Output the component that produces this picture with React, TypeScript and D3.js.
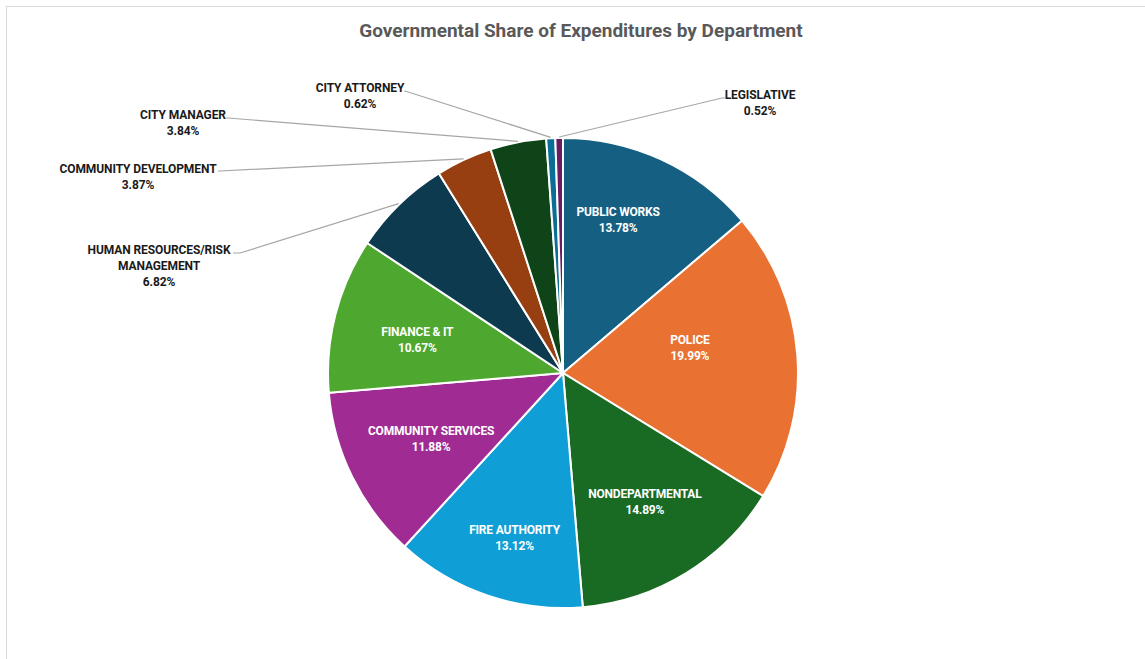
import React from "react";
import * as d3 from "d3";

const departments = [
  "PUBLIC WORKS",
  "POLICE",
  "NONDEPARTMENTAL",
  "FIRE AUTHORITY",
  "COMMUNITY SERVICES",
  "FINANCE & IT",
  "HUMAN RESOURCES/RISK MANAGEMENT",
  "COMMUNITY DEVELOPMENT",
  "CITY MANAGER",
  "CITY ATTORNEY",
  "LEGISLATIVE",
];
const shares = [13.78, 19.99, 14.89, 13.12, 11.88, 10.67, 6.82, 3.87, 3.84, 0.62, 0.52];
const colors = [
  "#156082",
  "#E97132",
  "#196B24",
  "#0F9ED5",
  "#A02B93",
  "#4EA72E",
  "#0D3A4E",
  "#983F11",
  "#0F4418",
  "#0B6E96",
  "#6A1C61",
];

// label layout: inside labels (white) vs outside labels with leader lines
const insideCount = 6;
// fine nudges of inside labels relative to the slice centroid (layout only)
const insideNudge = [
  [-8, -16],
  [-23, -13],
  [3, 1],
  [0, 23],
  [3, 0],
  [0, 4],
];
// outside label text lines and anchor positions (layout only)
const outsideLines = [
  ["HUMAN RESOURCES/RISK", "MANAGEMENT"],
  ["COMMUNITY DEVELOPMENT"],
  ["CITY MANAGER"],
  ["CITY ATTORNEY"],
  ["LEGISLATIVE"],
];
const outsideLayout = [
  { x: 159, y: 250, lineStart: [240, 253], textEnd: 233 },
  { x: 138, y: 169, lineStart: [220, 171], textEnd: 218 },
  { x: 183, y: 115, lineStart: [228, 118], textEnd: 226 },
  { x: 360, y: 88, lineStart: [405, 91], textEnd: 404 },
  { x: 760, y: 95, lineStart: [722, 98], textEnd: 725 },
];

const W = 1145;
const H = 659;
const cx = 563;
const cy = 373;
const R = 235;

export default function App() {
  const pie = d3
    .pie<number>()
    .value((d) => d)
    .sort(null)
    .startAngle(0)
    .endAngle(2 * Math.PI);
  const arcs = pie(shares);
  const arc = d3.arc<d3.PieArcDatum<number>>().innerRadius(0).outerRadius(R);
  const font = "Roboto, 'Liberation Sans', sans-serif";
  const pt = (a: number, r: number) => [cx + r * Math.sin(a), cy - r * Math.cos(a)];

  return (
    <div style={{ position: "absolute", left: 0, top: 0 }}>
      <svg width={W} height={H} style={{ display: "block", background: "#fff" }}>
        <rect x={6.5} y={6.5} width={W + 10} height={H + 10} fill="#fff" stroke="#d9d9d9" strokeWidth={1} />
        <text
          x={581}
          y={37}
          textAnchor="middle"
          fontFamily={font}
          fontWeight={700}
          fontSize={19}
          fill="#595959"
        >
          Governmental Share of Expenditures by Department
        </text>
        <g transform={`translate(${cx},${cy})`}>
          {arcs.map((a, i) => (
            <path key={i} d={arc(a) || ""} fill={colors[i]} stroke="#fff" strokeWidth={2} strokeLinejoin="round" />
          ))}
        </g>
        {arcs.slice(0, insideCount).map((a, i) => {
          const mid = (a.startAngle + a.endAngle) / 2;
          const [bx, by] = pt(mid, R * 0.64);
          const x = bx + insideNudge[i][0];
          const y = by + insideNudge[i][1];
          return (
            <text
              key={"in" + i}
              x={x}
              y={y}
              textAnchor="middle"
              fontFamily={font}
              fontWeight={700}
              fontSize={12}
              fill="#fff"
              letterSpacing={-0.2}
            >
              <tspan x={x} dy={-4}>{departments[i]}</tspan>
              <tspan x={x} dy={16}>{shares[i].toFixed(2) + "%"}</tspan>
            </text>
          );
        })}
        {arcs.slice(insideCount).map((a, j) => {
          const i = j + insideCount;
          const mid = (a.startAngle + a.endAngle) / 2;
          const [ex, ey] = pt(mid, R + 1);
          const L = outsideLayout[j];
          const lines = outsideLines[j];
          const path = d3.path();
          path.moveTo(L.textEnd, L.lineStart[1]);
          path.lineTo(L.lineStart[0], L.lineStart[1]);
          path.lineTo(ex, ey);
          return (
            <g key={"out" + i}>
              <path d={path.toString()} fill="none" stroke="#a6a6a6" strokeWidth={1.2} />
              <text
                textAnchor="middle"
                fontFamily={font}
                fontWeight={700}
                fontSize={12}
                fill="#1a1a1a"
                letterSpacing={-0.1}
              >
                {lines.map((t, k) => (
                  <tspan key={k} x={L.x} y={L.y + 4 + k * 16}>{t}</tspan>
                ))}
                <tspan x={L.x} y={L.y + 4 + lines.length * 16}>{shares[i].toFixed(2) + "%"}</tspan>
              </text>
            </g>
          );
        })}
      </svg>
    </div>
  );
}
